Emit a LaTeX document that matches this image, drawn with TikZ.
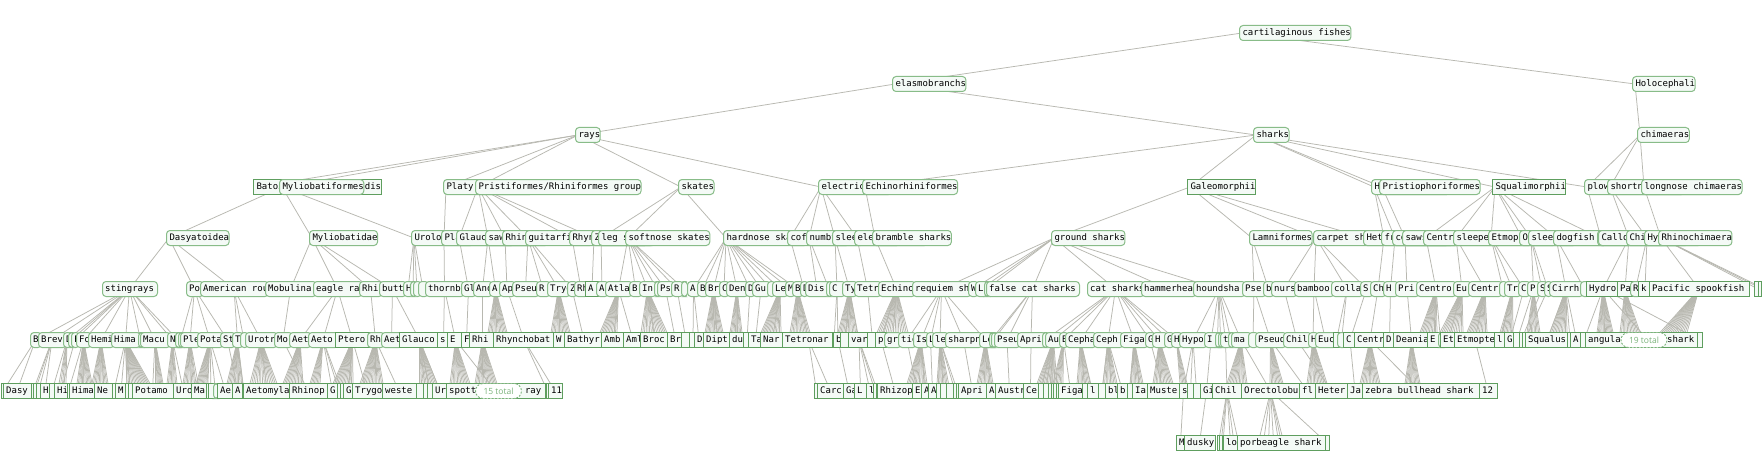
\documentclass[tikz,border=0pt]{standalone}
\usepackage{fontspec}
\newfontfamily\monof{DejaVu Sans Mono}
\newfontfamily\pillfont{Open Sans}
\definecolor{rborder}{HTML}{88BC88}
\definecolor{sborder}{HTML}{5E9E5E}
\definecolor{boxfill}{HTML}{F4FAF6}
\definecolor{edgec}{HTML}{B8B8B0}
\definecolor{pillc}{HTML}{7AB37A}
\tikzset{
  boxbase/.style={font=\monof\fontsize{9}{10}\selectfont, fill=boxfill, line width=1pt,
    minimum height=15pt, inner xsep=0pt, inner ysep=0pt, text height=6.8pt, text depth=1.9pt},
  rb/.style={boxbase, draw=rborder, rounded corners=3.5pt},
  sb/.style={boxbase, draw=sborder},
  conn/.style={draw=edgec, line width=0.75pt},
  pill/.style={draw=pillc, dash pattern=on 2pt off 1.5pt, line width=0.9pt, rounded corners=7.5pt,
    fill=white, text=pillc, font=\pillfont\fontsize{8.5}{10}\selectfont,
    minimum height=15pt, minimum width=46pt, inner sep=0pt}
}
\newif\ifedgepass
\newcounter{bxc}
\newlength\tmpw
% style, parent, y, x(left), width, label
\newcommand\bx[6]{%
  \stepcounter{bxc}\edef\bxn{b\arabic{bxc}}%
  \ifedgepass
    \pgfmathsetmacro\cx{#4+#5/2}%
    \coordinate[#1] (\bxn) at (\cx,#3);%
    \draw[conn] (#2) -- (\bxn);%
  \else
    \node[#1,anchor=west] (\bxn) at (#4,#3) {\makebox[#5pt][l]{\hspace{2.7pt}#6}};%
  \fi}
% style, parent, y, x(left), label  (natural width)
\newcommand\nb[5]{%
  \stepcounter{bxc}\edef\bxn{b\arabic{bxc}}%
  \ifedgepass
    \settowidth\tmpw{\monof\fontsize{9}{10}\selectfont #5}%
    \pgfmathsetmacro\cx{#4+\tmpw/2+3}%
    \coordinate[#1] (\bxn) at (\cx,#3);%
    \draw[conn] (#2) -- (\bxn);%
  \else
    \node[#1,anchor=west] (\bxn) at (#4,#3) {\hspace{3pt}#5\hspace{3pt}};%
  \fi}
% parent, ytop, x1, x2, n
\newcommand\fan[5]{%
  \ifedgepass
  \pgfmathtruncatemacro\fn{#5-1}%
  \foreach \k in {0,...,\fn}{%
    \coordinate (fan-#1-\k) at ({#3+(#4-#3)*\k/\fn},#2);
    \draw[conn] (#1) -- (fan-#1-\k);}%
  \fi}
\newcommand\onlynodes[1]{\ifedgepass\else#1\fi}
\newcommand\onlyedges[1]{\ifedgepass#1\fi}

\newcommand\diagram{%
% ---------- level 0-2
\nb{rb,alias=root}{rootp}{33}{1239}{cartilaginous fishes}
\nb{rb,alias=elasmo}{root}{84}{892}{elasmobranchs}
\nb{rb,alias=holo}{root}{84}{1632}{Holocephali}
\nb{rb,alias=rays}{elasmo}{135}{575}{rays}
\nb{rb,alias=sharks}{elasmo}{135}{1253}{sharks}
\nb{rb,alias=chim}{holo}{135}{1637}{chimaeras}
% ---------- level 3
\nb{sb,alias=bato}{rays}{187}{253}{Batoidea incertae sedis}
\nb{rb,alias=mylio}{rays}{187}{279}{Myliobatiformes}
\nb{rb,alias=platy}{rays}{187}{443}{Platyrhiniformes}
\nb{rb,alias=prist}{rays}{187}{475}{Pristiformes/Rhiniformes group}
\nb{rb,alias=skates}{rays}{187}{678}{skates}
\nb{rb,alias=elec}{rays}{187}{818}{electric rays}
\nb{rb,alias=echin}{sharks}{187}{862}{Echinorhiniformes}
\nb{sb,alias=galeo}{sharks}{187}{1187}{Galeomorphii}
\nb{rb,alias=hexan}{sharks}{187}{1371}{Hexanchiformes}
\nb{rb,alias=pristio}{sharks}{187}{1379}{Pristiophoriformes}
\nb{sb,alias=squal}{sharks}{187}{1492}{Squalimorphii}
\nb{rb,alias=plow}{chim}{187}{1584}{plownose chimaeras}
\nb{rb,alias=short}{chim}{187}{1607}{shortnose chimaeras}
\nb{rb,alias=longn}{chim}{187}{1641}{longnose chimaeras}
\onlyedges{\draw[conn] (sharks) -- (plow);}
% ---------- level 4
\nb{rb,alias=dasy}{mylio}{238}{166}{Dasyatoidea}
\nb{rb,alias=mylid}{mylio}{238}{309}{Myliobatidae}
\nb{rb,alias=urolo}{mylio}{238}{411}{Urolophidae}
\nb{rb,alias=platd}{platy}{238}{441}{Platyrhinidae}
\nb{rb,alias=glauc}{prist}{238}{456}{Glaucostegidae}
\nb{rb,alias=sawf}{prist}{238}{485}{sawfishes}
\nb{rb,alias=rhind}{prist}{238}{502}{Rhinidae}
\nb{rb,alias=guit}{prist}{238}{525}{guitarfishes}
\nb{rb,alias=rhynd}{prist}{238}{569}{Rhynchobatidae}
\nb{rb,alias=zano}{prist}{238}{591}{Zanobatidae}
\nb{rb,alias=legsk}{skates}{238}{598}{leg skates}
\nb{rb,alias=softsk}{skates}{238}{625}{softnose skates}
\nb{rb,alias=hardsk}{skates}{238}{723}{hardnose skates}
\nb{rb,alias=coff}{elec}{238}{787}{coffin rays}
\nb{rb,alias=numb}{elec}{238}{806}{numbfishes}
\nb{rb,alias=sleer}{elec}{238}{832}{sleeper rays}
\nb{rb,alias=elecr}{elec}{238}{854}{electric rays}
\nb{rb,alias=bramb}{echin}{238}{872}{bramble sharks}
\nb{rb,alias=ground}{galeo}{238}{1051}{ground sharks}
\nb{rb,alias=lamni}{galeo}{238}{1249}{Lamniformes}
\nb{rb,alias=carpet}{galeo}{238}{1313}{carpet sharks}
\nb{rb,alias=hetero}{galeo}{238}{1363}{Heterodontiformes}
\nb{rb,alias=frill}{hexan}{238}{1381}{frilled sharks}
\nb{rb,alias=cow}{hexan}{238}{1392}{cow sharks}
\nb{rb,alias=sawsh}{pristio}{238}{1402}{sawsharks}
\nb{rb,alias=centroph}{squal}{238}{1423}{Centrophoridae}
\nb{rb,alias=sleesh}{squal}{238}{1453}{sleeper sharks}
\nb{rb,alias=etmop}{squal}{238}{1488}{Etmopteridae}
\nb{rb,alias=oxyn}{squal}{238}{1519}{Oxynotidae}
\nb{rb,alias=slee2}{squal}{238}{1528}{sleeper sharks}
\nb{rb,alias=dogf}{squal}{238}{1553}{dogfish sharks}
\nb{rb,alias=angel}{squal}{238}{1597}{angel sharks}
\nb{rb,alias=callo}{plow}{238}{1598}{Callorhinchidae}
\nb{rb,alias=chimd}{short}{238}{1626}{Chimaeridae}
\nb{rb,alias=hydrol}{short}{238}{1644}{Hydrolagus}
\nb{rb,alias=rhinoc}{longn}{238}{1658}{Rhinochimaera}
% ---------- level 5
\bx{rb,alias=sting}{dasy}{289}{102}{55}{stingrays}
\bx{rb,alias=po}{dasy}{289}{186}{17}{Po}
\bx{rb,alias=amer}{dasy}{289}{200}{68}{American rou}
\bx{rb,alias=mobul}{mylid}{289}{265}{51}{Mobulina}
\bx{rb,alias=eagle}{mylid}{289}{313}{49}{eagle ra}
\bx{rb,alias=rhinop}{mylid}{289}{359}{23}{Rhi}
\bx{rb,alias=butt}{mylid}{289}{379}{27}{butt}
\bx{rb,alias=hexa}{urolo}{289}{403}{10}{H}
\bx{rb}{urolo}{289}{410}{6}{}
\bx{rb}{urolo}{289}{413}{8}{}
\bx{rb}{urolo}{289}{418}{10}{}
\bx{rb,alias=thornb}{platd}{289}{425}{39}{thornb}
\bx{rb,alias=glv}{glauc}{289}{461}{15}{Gl}
\bx{rb,alias=ano}{sawf}{289}{473}{19}{Ano}
\bx{rb,alias=aa}{sawf}{289}{489}{13}{A}
\bx{rb,alias=ap}{rhind}{289}{499}{16}{Ap}
\bx{rb,alias=pseuv}{guit}{289}{512}{27}{Pseu}
\bx{rb,alias=rv}{guit}{289}{536}{14}{R}
\bx{rb,alias=tryg}{guit}{289}{547}{23}{Tryg}
\bx{rb,alias=zv}{guit}{289}{567}{10}{Z}
\bx{rb,alias=rhv}{rhynd}{289}{574}{14}{Rh}
\bx{sb,alias=asq}{zano}{289}{585}{14}{A}
\bx{rb,alias=ab}{legsk}{289}{596}{12}{A}
\bx{rb,alias=atla}{softsk}{289}{605}{27}{Atla}
\bx{rb,alias=bb}{softsk}{289}{629}{13}{B}
\bx{rb,alias=inv}{softsk}{289}{639}{17}{In}
\bx{rb}{softsk}{289}{654}{6}{}
\bx{rb,alias=psv}{softsk}{289}{657}{17}{Ps}
\bx{rb,alias=rr}{softsk}{289}{671}{12}{R}
\bx{rb}{softsk}{289}{681}{6}{}
\bx{rb,alias=ac}{hardsk}{289}{687}{13}{A}
\bx{rb,alias=bc}{hardsk}{289}{697}{11}{B}
\bx{rb,alias=brv}{hardsk}{289}{705}{17}{Br}
\bx{rb,alias=cv}{hardsk}{289}{719}{10}{C}
\bx{rb,alias=den}{hardsk}{289}{726}{22}{Den}
\bx{rb,alias=dv}{hardsk}{289}{745}{10}{D}
\bx{rb,alias=gu}{hardsk}{289}{752}{18}{Gu}
\bx{rb}{hardsk}{289}{767}{8}{}
\bx{rb,alias=lev}{hardsk}{289}{772}{16}{Le}
\bx{rb,alias=mv}{hardsk}{289}{785}{10}{M}
\bx{rb,alias=bd}{hardsk}{289}{792}{11}{B}
\bx{rb,alias=dd}{coff}{289}{800}{8}{D}
\bx{rb,alias=dis}{numb}{289}{805}{24}{Dis}
\bx{rb}{numb}{289}{826}{6}{}
\bx{rb,alias=cc}{sleer}{289}{829}{16}{C}
\bx{rb,alias=ty}{sleer}{289}{842}{15}{Ty}
\bx{rb,alias=tetr}{elecr}{289}{854}{27}{Tetr}
\bx{rb,alias=echino}{bramb}{289}{878}{37}{Echino}
\bx{rb,alias=requiem}{ground}{289}{912}{59}{requiem sh}
\bx{rb,alias=wv}{ground}{289}{968}{10}{W}
\bx{rb,alias=lv}{ground}{289}{975}{12}{L}
\bx{rb}{ground}{289}{984}{5}{}
\bx{rb,alias=falsec}{ground}{289}{986}{93}{false cat sharks}
\bx{rb,alias=cat}{ground}{289}{1087}{57}{cat sharks}
\bx{rb,alias=hammer}{ground}{289}{1141}{55}{hammerhea}
\bx{rb,alias=hound}{ground}{289}{1193}{52}{houndsha}
\bx{rb,alias=psev}{lamni}{289}{1242}{24}{Pse}
\bx{rb,alias=bv}{lamni}{289}{1263}{11}{b}
\bx{rb,alias=nurs}{carpet}{289}{1271}{26}{nurs}
\bx{rb,alias=bamboo}{carpet}{289}{1294}{40}{bamboo}
\bx{rb,alias=colla}{carpet}{289}{1331}{32}{colla}
\bx{rb,alias=sv}{carpet}{289}{1360}{13}{S}
\bx{rb,alias=chv}{frill}{289}{1370}{16}{Ch}
\bx{rb,alias=hv}{cow}{289}{1383}{15}{H}
\bx{rb,alias=pri}{sawsh}{289}{1395}{24}{Pri}
\bx{rb,alias=centro}{centroph}{289}{1416}{40}{Centro}
\bx{rb,alias=eu}{sleesh}{289}{1453}{18}{Eu}
\bx{rb,alias=centrv}{sleesh}{289}{1468}{34}{Centr}
\bx{rb}{etmop}{289}{1499}{8}{}
\bx{rb,alias=tr}{etmop}{289}{1504}{17}{Tr}
\bx{rb,alias=cd}{etmop}{289}{1518}{12}{C}
\bx{rb,alias=prv}{slee2}{289}{1527}{13}{Pr}
\bx{rb,alias=sw}{slee2}{289}{1537}{10}{S}
\bx{rb,alias=sx}{slee2}{289}{1544}{8}{S}
\bx{rb,alias=cirrh}{dogf}{289}{1549}{34}{Cirrh}
\bx{rb}{dogf}{289}{1580}{9}{}
\bx{sb,alias=hydro}{chimd}{289}{1586}{34}{Hydro}
\bx{sb,alias=pa}{chimd}{289}{1617}{16}{Pa}
\bx{rb,alias=re}{hydrol}{289}{1630}{11}{R}
\bx{sb,alias=kv}{hydrol}{289}{1638}{14}{k}
\bx{sb,alias=pacific}{rhinoc}{289}{1649}{100}{Pacific spookfish}
\bx{sb}{rhinoc}{289}{1754}{8}{}
\bx{sb}{rhinoc}{289}{1758}{8}{}
\bx{sb}{rhinoc}{289}{1761}{8}{}
% fans level 5 -> 6
\fan{aa}{332.5}{488}{507}{14}
\fan{tryg}{332.5}{551}{570}{14}
\fan{atla}{332.5}{600}{617}{12}
\fan{inv}{332.5}{641}{667}{16}
\fan{brv}{332.5}{705}{723}{14}
\fan{den}{332.5}{730}{742}{10}
\fan{lev}{332.5}{761}{781}{14}
\fan{bd}{332.5}{790}{810}{14}
\fan{ty}{332.5}{838}{857}{14}
\fan{echino}{332.5}{877}{908}{18}
\fan{centro}{332.5}{1420}{1437}{12}
\fan{eu}{332.5}{1440}{1463}{14}
\fan{centrv}{332.5}{1467}{1487}{14}
\fan{tr}{332.5}{1500}{1513}{10}
\fan{prv}{332.5}{1527}{1540}{10}
\fan{cirrh}{332.5}{1550}{1567}{12}
\fan{hydro}{332.5}{1597}{1613}{14}
\fan{pa}{332.5}{1620}{1640}{14}
\fan{pacific}{332.5}{1660}{1687}{16}
% ---------- level 6
\bx{rb,alias=Bv}{sting}{340}{30}{11}{B}
\bx{rb,alias=brev}{sting}{340}{38}{28}{Brev}
\bx{rb,alias=D6}{sting}{340}{63}{8}{D}
\bx{rb}{sting}{340}{68}{6}{}
\bx{rb,alias=F6}{sting}{340}{71}{8}{F}
\bx{rb,alias=fo}{sting}{340}{76}{15}{Fo}
\bx{rb,alias=hemi}{sting}{340}{88}{26}{Hemi}
\bx{rb,alias=hima}{sting}{340}{111}{29}{Hima}
\bx{rb}{sting}{340}{138}{5}{}
\bx{rb,alias=macu}{sting}{340}{140}{30}{Macu}
\bx{rb,alias=N6}{sting}{340}{167}{11}{N}
\bx{rb}{sting}{340}{175}{6}{}
\bx{rb}{po}{340}{178}{5}{}
\bx{rb,alias=ple}{po}{340}{180}{20}{Ple}
\bx{rb,alias=pota}{po}{340}{197}{26}{Pota}
\bx{rb,alias=st}{po}{340}{220}{15}{St}
\bx{rb,alias=T6}{amer}{340}{232}{11}{T}
\bx{rb}{amer}{340}{240}{8}{}
\bx{rb,alias=urotr}{amer}{340}{245}{32}{Urotr}
\bx{rb,alias=mo}{mobul}{340}{274}{18}{Mo}
\bx{rb,alias=aet}{eagle}{340}{289}{22}{Aet}
\bx{rb,alias=aeto}{eagle}{340}{308}{30}{Aeto}
\bx{sb,alias=ptero}{eagle}{340}{335}{35}{Ptero}
\bx{rb,alias=rh6}{rhinop}{340}{367}{17}{Rh}
\bx{rb,alias=aet2}{butt}{340}{381}{21}{Aet}
\bx{sb,alias=glauco}{butt}{340}{399}{41}{Glauco}
\bx{sb,alias=s6}{thornb}{340}{437}{13}{s}
\bx{sb,alias=E6}{thornb}{340}{447}{17}{E}
\bx{sb,alias=F7}{glv}{340}{461}{11}{F}
\bx{sb,alias=rhi6}{ano}{340}{469}{27}{Rhi}
\bx{sb,alias=rhyn}{ap}{340}{493}{62}{Rhynchobat}
\bx{sb,alias=W6}{tryg}{340}{553}{14}{W}
\bx{sb,alias=bathyr}{zv}{340}{564}{40}{Bathyr}
\bx{sb,alias=amb}{atla}{340}{601}{25}{Amb}
\bx{sb,alias=aml}{atla}{340}{623}{20}{Aml}
\bx{sb,alias=broc}{inv}{340}{640}{30}{Broc}
\bx{sb,alias=br6}{psv}{340}{667}{17}{Br}
\bx{sb}{rr}{340}{681}{10}{}
\bx{sb}{ac}{340}{689}{8}{}
\bx{sb,alias=D7}{ac}{340}{694}{10}{D}
\bx{sb,alias=dipt}{brv}{340}{703}{29}{Dipt}
\bx{sb,alias=du}{den}{340}{729}{17}{du}
\bx{sb}{dv}{340}{743}{8}{}
\bx{sb,alias=ta}{gu}{340}{748}{15}{Ta}
\bx{sb,alias=nar}{lev}{340}{760}{25}{Nar}
\bx{sb,alias=tetronar}{bd}{340}{782}{53}{Tetronar}
\bx{sb}{cc}{340}{832}{4}{}
\bx{sb,alias=b6}{cc}{340}{833}{10}{b}
\bx{sb}{ty}{340}{840}{11}{}
\bx{sb,alias=var}{ty}{340}{848}{22}{var}
\bx{sb}{tetr}{340}{867}{11}{}
\bx{sb,alias=p6}{echino}{340}{875}{12}{p}
\bx{rb,alias=gr}{echino}{340}{884}{17}{gr}
\bx{rb,alias=tig}{requiem}{340}{898}{18}{tig}
\bx{rb,alias=is}{requiem}{340}{913}{16}{Is}
\bx{rb,alias=L6}{requiem}{340}{926}{9}{L}
\bx{rb,alias=le}{requiem}{340}{932}{16}{le}
\bx{rb,alias=sharpn}{requiem}{340}{945}{37}{sharpn}
\bx{rb,alias=Le6}{requiem}{340}{979}{13}{Le}
\bx{rb}{falsec}{340}{989}{4}{}
\bx{rb}{falsec}{340}{991}{5}{}
\bx{rb,alias=pseu6}{falsec}{340}{994}{26}{Pseu}
\bx{rb,alias=apri}{falsec}{340}{1017}{28}{Apri}
\bx{rb}{cat}{340}{1042}{6}{}
\bx{rb,alias=au}{cat}{340}{1045}{17}{Au}
\bx{rb,alias=B6}{cat}{340}{1059}{9}{B}
\bx{rb,alias=cepha}{cat}{340}{1065}{31}{Cepha}
\bx{rb,alias=ceph}{cat}{340}{1093}{30}{Ceph}
\bx{rb,alias=figa}{cat}{340}{1120}{28}{Figa}
\bx{rb,alias=G6}{cat}{340}{1145}{10}{G}
\bx{rb,alias=H6}{cat}{340}{1152}{15}{H}
\bx{rb,alias=G7}{cat}{340}{1164}{10}{G}
\bx{rb,alias=H7}{cat}{340}{1171}{11}{H}
\bx{rb,alias=hypo}{hound}{340}{1179}{28}{Hypo}
\bx{rb,alias=I6}{hound}{340}{1204}{14}{I}
\bx{rb}{hound}{340}{1215}{5}{}
\bx{rb}{hound}{340}{1218}{5}{}
\bx{rb,alias=t6}{hound}{340}{1220}{11}{t}
\bx{rb}{hound}{340}{1228}{6}{}
\bx{rb,alias=ma}{hound}{340}{1231}{20}{ma}
\bx{rb}{psev}{340}{1248}{10}{}
\bx{rb,alias=pseud}{psev}{340}{1255}{31}{Pseud}
\bx{rb,alias=chil6}{nurs}{340}{1283}{28}{Chil}
\bx{rb,alias=H8}{bamboo}{340}{1308}{10}{H}
\bx{rb,alias=euc}{bamboo}{340}{1315}{21}{Euc}
\bx{sb}{colla}{340}{1333}{7}{}
\bx{rb}{colla}{340}{1337}{9}{}
\bx{sb,alias=C6}{sv}{340}{1343}{14}{C}
\bx{sb,alias=centr6}{chv}{340}{1354}{32}{Centr}
\bx{sb,alias=D8}{hv}{340}{1383}{13}{D}
\bx{sb,alias=deania}{pri}{340}{1393}{37}{Deania}
\bx{sb,alias=E7}{centro}{340}{1427}{14}{E}
\bx{rb}{centro}{340}{1438}{5}{}
\bx{sb,alias=et}{eu}{340}{1440}{17}{Et}
\bx{sb,alias=etmopte}{centrv}{340}{1454}{42}{Etmopte}
\bx{sb,alias=l6}{tr}{340}{1494}{13}{l}
\bx{sb,alias=G8}{cd}{340}{1504}{12}{G}
\bx{sb}{prv}{340}{1513}{8}{}
\bx{sb}{sw}{340}{1519}{5}{}
\bx{sb}{sx}{340}{1522}{6}{}
\bx{sb,alias=squalus}{cirrh}{340}{1525}{44}{Squalus}
\bx{sb}{cirrh}{340}{1567}{6}{}
\bx{sb,alias=A6}{cirrh}{340}{1570}{13}{A}
\bx{sb}{hydro}{340}{1580}{8}{}
\bx{sb}{hydro}{340}{1697}{5}{}
\bx{sb}{hydro}{340}{1599}{98}{ornate angelshark}
\bx{sb,alias=angula}{hydro}{340}{1585}{40}{angula}
\onlynodes{\node[pill] (p19) at (1644,340) {19 total};}
% fans level 6 -> 7
\fan{D6}{383.5}{59}{66}{5}
\fan{fo}{383.5}{77}{92}{12}
\fan{hemi}{383.5}{92}{108}{12}
\fan{hima}{383.5}{127}{150}{16}
\fan{macu}{383.5}{155}{163}{8}
\fan{N6}{383.5}{167}{177}{8}
\fan{ple}{383.5}{183}{196}{10}
\fan{pota}{383.5}{196}{207}{10}
\fan{T6}{383.5}{227}{243}{12}
\fan{urotr}{383.5}{250}{277}{16}
\fan{aet}{383.5}{283}{303}{14}
\fan{aeto}{383.5}{310}{320}{8}
\fan{ptero}{383.5}{333}{353}{14}
\fan{rh6}{383.5}{360}{383}{16}
\fan{glauco}{383.5}{420}{437}{12}
\fan{E6}{383.5}{450}{470}{14}
\fan{rhi6}{383.5}{475}{497}{16}
\fan{is}{383.5}{907}{927}{14}
\fan{le}{383.5}{937}{947}{8}
\fan{Le6}{383.5}{977}{993}{12}
\fan{au}{383.5}{1037}{1053}{12}
\fan{B6}{383.5}{1053}{1063}{8}
\fan{cepha}{383.5}{1077}{1090}{10}
\fan{ceph}{383.5}{1103}{1117}{10}
\fan{figa}{383.5}{1130}{1143}{10}
\fan{H6}{383.5}{1153}{1173}{14}
\fan{H7}{383.5}{1180}{1187}{6}
\fan{ma}{383.5}{1227}{1247}{14}
\fan{pseud}{383.5}{1270}{1283}{10}
\fan{H8}{383.5}{1307}{1327}{14}
\fan{centr6}{383.5}{1360}{1380}{14}
\fan{deania}{383.5}{1405}{1420}{12}
% ---------- level 7
\bx{sb}{Bv}{391}{1}{4}{}
\bx{sb}{Bv}{391}{3}{28}{Dasy}
\bx{sb}{brev}{391}{31}{4}{}
\bx{sb}{brev}{391}{33}{4}{}
\bx{sb}{brev}{391}{36}{5}{}
\bx{sb}{brev}{391}{40}{10}{H}
\bx{sb}{D6}{391}{49}{6}{}
\bx{sb}{F6}{391}{54}{14}{Hi}
\bx{sb}{fo}{391}{67}{3}{}
\bx{sb}{fo}{391}{69}{28}{Hima}
\bx{sb}{hemi}{391}{94}{20}{Ne}
\bx{sb}{hima}{391}{112}{4}{}
\bx{sb}{hima}{391}{115}{12}{M}
\bx{sb}{hima}{391}{125}{4}{}
\bx{sb}{hima}{391}{128}{5}{}
\bx{sb}{macu}{391}{132}{41}{Potamo}
\bx{sb}{N6}{391}{173}{21}{Uro}
\bx{sb}{ple}{391}{191}{17}{Ma}
\bx{sb}{pota}{391}{206}{3}{}
\bx{sb}{pota}{391}{208}{6}{}
\bx{rb}{pota}{391}{213}{5}{}
\bx{sb}{pota}{391}{217}{17}{Ae}
\bx{sb}{st}{391}{232}{12}{A}
\bx{sb}{T6}{391}{242}{3}{}
\bx{sb}{urotr}{391}{243}{48}{Aetomyla}
\bx{sb}{mo}{391}{289}{38}{Rhinop}
\bx{sb}{aeto}{391}{327}{11}{G}
\bx{sb}{aeto}{391}{337}{4}{}
\bx{sb}{aeto}{391}{340}{4}{}
\bx{sb}{ptero}{391}{343}{11}{G}
\bx{sb}{ptero}{391}{352}{30}{Trygo}
\bx{sb}{rh6}{391}{382}{34}{weste}
\bx{sb}{glauco}{391}{416}{7}{}
\bx{sb}{glauco}{391}{423}{5}{}
\bx{sb}{glauco}{391}{427}{6}{}
\bx{sb}{glauco}{391}{432}{16}{Ur}
\bx{sb}{E6}{391}{446}{99}{spotted eagle ray}
\bx{sb}{rhyn}{391}{546}{3}{}
\bx{sb}{rhyn}{391}{548}{14}{11}
\onlynodes{\node[pill] (p15) at (498.5,391) {15 total};}
\bx{sb}{tetronar}{391}{814}{5}{}
\bx{sb}{tetronar}{391}{817}{27}{Carc}
\bx{sb}{b6}{391}{843}{12}{Ga}
\bx{sb}{var}{391}{854}{13}{L}
\bx{sb}{var}{391}{866}{8}{l}
\bx{sb}{var}{391}{873}{4}{}
\bx{sb}{var}{391}{876}{3}{}
\bx{sb}{p6}{391}{877}{36}{Rhizop}
\bx{sb}{tig}{391}{912}{10}{E}
\bx{sb}{is}{391}{921}{8}{A}
\bx{sb}{L6}{391}{928}{9}{A}
\bx{sb}{le}{391}{936}{5}{}
\bx{sb}{le}{391}{940}{7}{}
\bx{sb}{le}{391}{946}{8}{}
\bx{sb}{le}{391}{953}{4}{}
\bx{sb}{le}{391}{956}{3}{}
\bx{sb}{sharpn}{391}{958}{29}{Apri}
\bx{sb}{Le6}{391}{986}{10}{A}
\bx{sb}{pseu6}{391}{995}{29}{Austr}
\bx{sb}{apri}{391}{1023}{15}{Ce}
\bx{sb}{au}{391}{1038}{5}{}
\bx{sb}{au}{391}{1043}{5}{}
\bx{sb}{au}{391}{1048}{4}{}
\bx{sb}{au}{391}{1051}{3}{}
\bx{sb}{au}{391}{1053}{4}{}
\bx{sb}{au}{391}{1056}{3}{}
\bx{sb}{B6}{391}{1058}{25}{Figa}
\bx{sb}{cepha}{391}{1082}{6}{}
\bx{sb}{cepha}{391}{1087}{11}{l}
\bx{sb}{ceph}{391}{1098}{8}{}
\bx{sb}{ceph}{391}{1105}{13}{bl}
\bx{sb}{ceph}{391}{1117}{11}{b}
\bx{sb}{figa}{391}{1127}{6}{}
\bx{sb}{figa}{391}{1132}{16}{Ia}
\bx{sb}{G6}{391}{1147}{33}{Muste}
\bx{sb,alias=s7}{hypo}{391}{1179}{9}{s}
\bx{sb}{hypo}{391}{1187}{7}{}
\bx{sb}{hypo}{391}{1193}{7}{}
\bx{sb,alias=gi7}{I6}{391}{1200}{13}{Gi}
\bx{sb,alias=chil7}{t6}{391}{1212}{30}{Chil}
\bx{sb,alias=orect}{ma}{391}{1241}{59}{Orectolobu}
\bx{sb}{pseud}{391}{1299}{17}{fl}
\bx{sb}{chil6}{391}{1315}{33}{Heter}
\bx{sb}{C6}{391}{1347}{16}{Ja}
\bx{sb}{centr6}{391}{1362}{117}{zebra bullhead shark}
\bx{sb}{etmopte}{391}{1479}{18}{12}
% fans level 7 -> 8
\fan{orect}{435.5}{1260}{1282}{6}
\fan{chil7}{435.5}{1233}{1237}{2}
% ---------- level 8
\bx{sb}{s7}{443}{1176}{9}{M}
\bx{sb}{gi7}{443}{1184}{31}{dusky}
\bx{sb}{chil7}{443}{1217}{3}{}
\bx{sb}{chil7}{443}{1219}{4}{}
\bx{sb}{chil7}{443}{1222}{2}{}
\bx{sb}{chil7}{443}{1223}{15}{lo}
\bx{sb}{orect}{443}{1237}{89}{porbeagle shark}
\bx{sb}{orect}{443}{1325}{4}{}
}

\begin{document}
\begin{tikzpicture}[x=1pt,y=-1pt]
\useasboundingbox (0,0) rectangle (1762,476);
\fill[white] (0,0) rectangle (1762,476);
\coordinate (rootp) at (1296,33);
% pass 1: connectors only
\edgepasstrue
\setcounter{bxc}{0}
\diagram
% pass 2: boxes on top
\edgepassfalse
\setcounter{bxc}{0}
\diagram
\end{tikzpicture}
\end{document}
